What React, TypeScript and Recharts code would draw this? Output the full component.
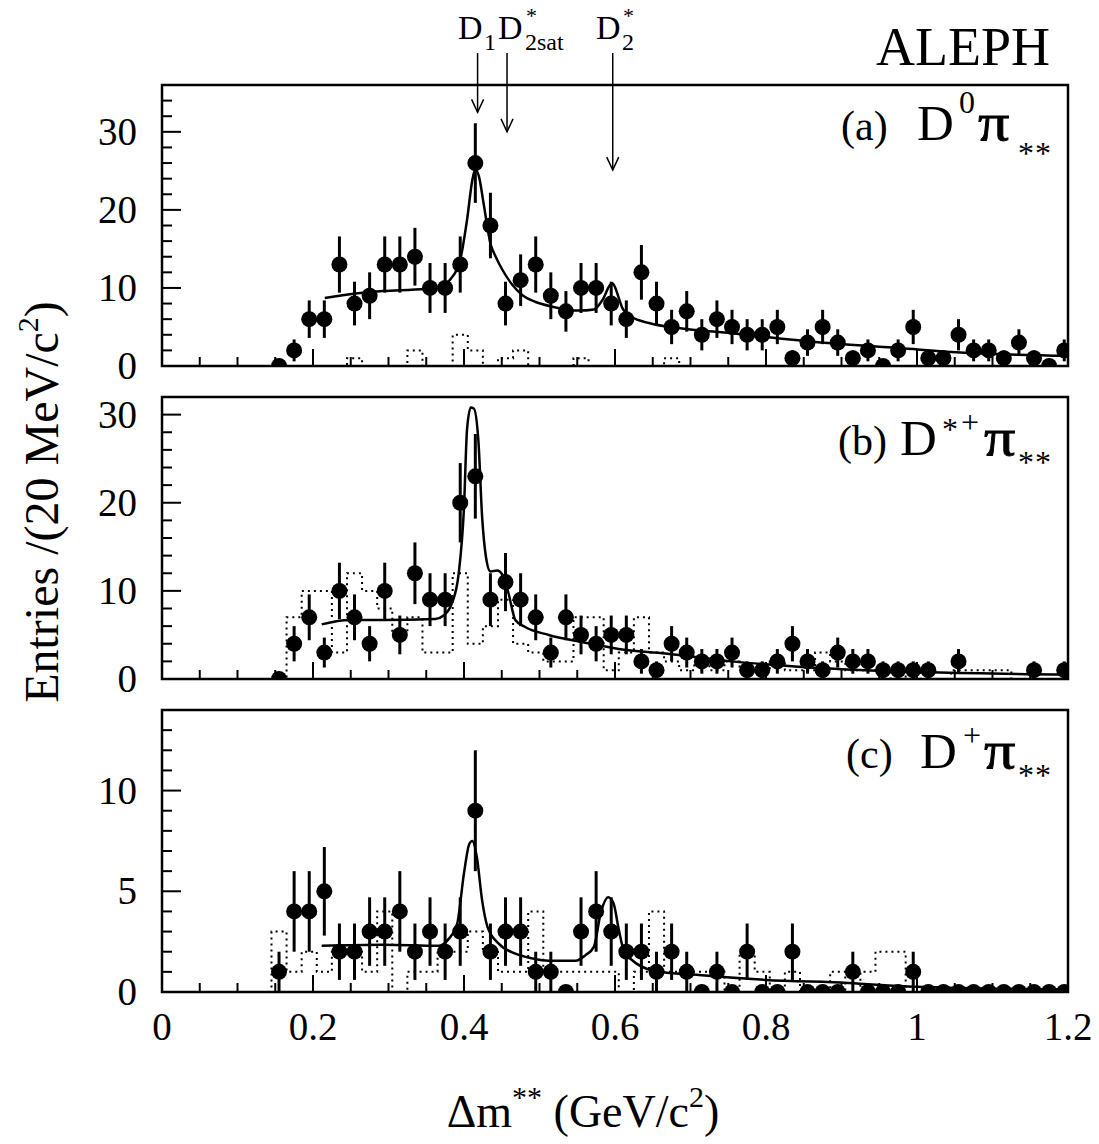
import React from 'react';
import { ComposedChart, Scatter, Line, XAxis, YAxis, ErrorBar, ReferenceLine, ReferenceArea } from 'recharts';

// ---------- data ----------
const BIN_CENTERS = [
  0.155, 0.175, 0.195, 0.215, 0.235, 0.255, 0.275, 0.295, 0.315, 0.335,
  0.355, 0.375, 0.395, 0.415, 0.435, 0.455, 0.475, 0.495, 0.515, 0.535,
  0.555, 0.575, 0.595, 0.615, 0.635, 0.655, 0.675, 0.695, 0.715, 0.735,
  0.755, 0.775, 0.795, 0.815, 0.835, 0.855, 0.875, 0.895, 0.915, 0.935,
  0.955, 0.975, 0.995, 1.015, 1.035, 1.055, 1.075, 1.095, 1.115, 1.135,
  1.155, 1.175, 1.195,
];
const HALF_BIN = 0.01;

// (a) D0 pi
const A_COUNTS = [
  0, 2, 6, 6, 13, 8, 9, 13, 13, 14,
  10, 10, 13, 26, 18, 8, 11, 13, 9, 7,
  10, 10, 8, 6, 12, 8, 5, 7, 4, 6,
  5, 4, 4, 5, 1, 3, 5, 3, 1, 2,
  0, 2, 5, 1, 1, 4, 2, 2, 1, 3,
  1, 0, 2,
];
const A_ERRS = [
  0, 1.4, 2.4, 2.4, 3.6, 2.8, 3, 3.6, 3.6, 3.7,
  3.2, 3.2, 3.6, 5.1, 4.2, 2.8, 3.3, 3.6, 3, 2.6,
  3.2, 3.2, 2.8, 2.4, 3.5, 2.8, 2.2, 2.6, 2, 2.4,
  2.2, 2, 2, 2.2, 1, 1.7, 2.2, 1.7, 1, 1.4,
  0, 1.4, 2.2, 1, 1, 2, 1.4, 1.4, 1, 1.7,
  1, 0, 1.4,
];
const A_BG = [
  0, 0, 0, 0, 0, 1, 0, 0, 0, 2,
  0, 0, 4, 2, 0, 1, 2, 0, 0, 0,
  1, 0, 0, 0, 0, 0, 1, 0, 0, 0,
  0, 0, 0, 0, 0, 0, 0, 0, 0, 0,
  0, 0, 0, 0, 0, 0, 0, 0, 0, 0,
  0, 0, 0,
];
const A_FIT_X = [0.2156, 0.2565, 0.292, 0.349, 0.371, 0.382, 0.395, 0.404, 0.411, 0.415, 0.42, 0.426, 0.435, 0.442, 0.451, 0.464, 0.477, 0.495, 0.517, 0.552, 0.572, 0.583, 0.596, 0.611, 0.622, 0.645, 0.689, 0.755, 0.821, 0.887, 0.975, 1.063, 1.2];
const A_FIT_Y = [8.7, 9.3, 9.6, 9.9, 10.2, 11.1, 13.6, 18.7, 23.8, 25.2, 24.2, 20.8, 15.7, 14, 12.3, 10.4, 9.1, 8.2, 7.6, 7.1, 7.25, 8.4, 10.6, 7.2, 6.3, 5.5, 4.8, 4.2, 3.5, 2.9, 2.3, 1.7, 1.3];

// (b) D*+ pi
const B_COUNTS = [
  0, 4, 7, 3, 10, 7, 4, 10, 5, 12,
  9, 9, 20, 23, 9, 11, 9, 7, 3, 7,
  5, 4, 5, 5, 2, 1, 4, 3, 2, 2,
  3, 1, 1, 2, 4, 2, 1, 3, 2, 2,
  1, 1, 1, 1, null, 2, null, null, null, null,
  1, null, 1,
];
const B_ERRS = [
  0, 2, 2.6, 1.7, 3.2, 2.6, 2, 3.2, 2.2, 3.5,
  3, 3, 4.5, 4.8, 3, 3.3, 3, 2.6, 1.7, 2.6,
  2.2, 2, 2.2, 2.2, 1.4, 1, 2, 1.7, 1.4, 1.4,
  1.7, 1, 1, 1.4, 2, 1.4, 1, 1.7, 1.4, 1.4,
  1, 1, 1, 1, 0, 1.4, 0, 0, 0, 0,
  1, 0, 1,
];
const B_BG = [
  0, 7, 10, 10, 3, 12, 10, 8, 5, 7,
  3, 3, 12, 4, 6, 9, 4, 3, 2, 2,
  7, 7, 1, 3, 7, 3, 2, 1, 2, 1,
  2, 1, 1, 2, 1, 1, 3, 2, 1, 1,
  1, 0, 1, 0, 0, 1, 1, 1, 1, 0,
  0, 0, 0,
];
const B_FIT_X = [0.2115, 0.248, 0.292, 0.362, 0.373, 0.384, 0.393, 0.4, 0.404, 0.409, 0.413, 0.419, 0.424, 0.429, 0.435, 0.444, 0.451, 0.459, 0.468, 0.481, 0.512, 0.556, 0.605, 0.667, 0.755, 0.843, 0.931, 1.019, 1.2];
const B_FIT_Y = [6.2, 6.7, 6.7, 6.8, 7.2, 8.6, 12, 19.5, 28.3, 30.8, 30.7, 27.1, 18.4, 13.9, 12.2, 12.3, 11.8, 9.7, 6.7, 5.9, 5, 4.2, 3.4, 2.9, 2, 1.4, 1, 0.76, 0.5];

// (c) D+ pi
const C_COUNTS = [
  1, 4, 4, 5, 2, 2, 3, 3, 4, 2,
  3, 2, 3, 9, 2, 3, 3, 1, 1, 0,
  3, 4, 3, 2, 2, 1, 2, 1, 0, 1,
  0, 2, 0, 0, 2, 0, 0, 0, 1, 0,
  0, 0, 1, 0, 0, 0, 0, 0, 0, 0,
  0, 0, 0,
];
const C_ERRS = [
  1, 2, 2, 2.2, 1.4, 1.4, 1.7, 1.7, 2, 1.4,
  1.7, 1.4, 1.7, 3, 1.4, 1.7, 1.7, 1, 1, 0,
  1.7, 2, 1.7, 1.4, 1.4, 1, 1.4, 1, 0, 1,
  0, 1.4, 0, 0, 1.4, 0, 0, 0, 1, 0,
  0, 0, 1, 0, 0, 0, 0, 0, 0, 0,
  0, 0, 0,
];
const C_BG = [
  3, 1, 2, 1, 2, 2, 1, 4, 0, 1,
  1, 2, 2, 3, 2, 1, 1, 4, 1, 1,
  1, 1, 1, 0, 1, 4, 1, 1, 1, 1,
  0, 2, 1, 0, 1, 0, 0, 1, 0, 1,
  2, 2, 0, 0, 0, 0, 0, 0, 0, 0,
  0, 0, 0,
];
const C_FIT_X = [0.2115, 0.292, 0.367, 0.38, 0.391, 0.4, 0.407, 0.411, 0.417, 0.424, 0.431, 0.446, 0.468, 0.49, 0.512, 0.548, 0.561, 0.572, 0.581, 0.591, 0.598, 0.605, 0.612, 0.622, 0.651, 0.711, 0.799, 0.909, 0.997, 1.2];
const C_FIT_Y = [2.3, 2.35, 2.3, 2.65, 3.4, 5.9, 7.35, 7.5, 6.7, 4.55, 3.25, 2.4, 1.9, 1.67, 1.55, 1.55, 1.83, 2.24, 3.9, 4.7, 4.4, 3.1, 2.0, 1.6, 1.06, 0.84, 0.6, 0.45, 0.26, 0.13];

// axes
const X_TICKS = [0, 0.05, 0.1, 0.15, 0.2, 0.25, 0.3, 0.35, 0.4, 0.45, 0.5, 0.55, 0.6, 0.65, 0.7, 0.75, 0.8, 0.85, 0.9, 0.95, 1, 1.05, 1.1, 1.15, 1.2];
const X_LABELS = [0, 0.2, 0.4, 0.6, 0.8, 1, 1.2];
const AB_Y_TICKS_A = [0, 2, 4, 6, 8, 10, 12, 14, 16, 18, 20, 22, 24, 26, 28, 30, 32, 34];
const AB_Y_TICKS_B = [0, 2, 4, 6, 8, 10, 12, 14, 16, 18, 20, 22, 24, 26, 28, 30];
const AB_Y_LABELS = [0, 10, 20, 30];
const C_Y_TICKS = [0, 1, 2, 3, 4, 5, 6, 7, 8, 9, 10, 11, 12, 13];
const C_Y_LABELS = [0, 5, 10];

// resonance markers (x in GeV/c^2, arrow from yTop to yTip in panel (a) units)
const MARKER_X = [0.418, 0.457, 0.597];
const MARKER_TOP = 40.1;
const MARKER_TIP = [32.5, 30.0, 25.1];

// ---------- layout ----------
const W = 1099;
const H = 1144;
const PLOT_LEFT = 162;
const PLOT_RIGHT = 1068;
const X_AXIS_H = 30;
const FONT = '"Liberation Serif", "Times New Roman", Times, serif';

function makeXTick(showLabels: boolean) {
  return (props: any) => {
    const { x, y, payload } = props;
    const v = payload.value;
    const major = X_LABELS.indexOf(v) >= 0;
    return (
      <g>
        <line x1={x} x2={x} y1={y} y2={y - (major ? 17 : 9)} stroke="#000" strokeWidth={2} />
        {showLabels && major ? (
          <text x={x} y={y + 48} textAnchor="middle" fontSize={39} fontFamily={FONT} fill="#000">
            {String(v)}
          </text>
        ) : null}
      </g>
    );
  };
}

function makeYTick(labels: number[]) {
  return (props: any) => {
    const { x, y, payload } = props;
    const v = payload.value;
    const major = labels.indexOf(v) >= 0;
    return (
      <g>
        <line x1={x} x2={x + (major ? 19 : 10)} y1={y} y2={y} stroke="#000" strokeWidth={2} />
        {major ? (
          <text x={x - 25} y={y + 13} textAnchor="end" fontSize={39} fontFamily={FONT} fill="#000">
            {String(v)}
          </text>
        ) : null}
      </g>
    );
  };
}

const dotShape = (p: any) => <circle cx={p.cx} cy={p.cy} r={8} fill="#000" />;

const arrowShape = (p: any) => {
  const { x1, y1, x2, y2 } = p;
  return (
    <g>
      <line x1={x1} y1={y1} x2={x2} y2={y2} stroke="#000" strokeWidth={1.5} />
      <polyline
        points={`${x2 - 6},${y2 - 13} ${x2},${y2} ${x2 + 6},${y2 - 13}`}
        fill="none"
        stroke="#000"
        strokeWidth={1.5}
      />
    </g>
  );
};

type PanelCfg = {
  top: number;
  bottom: number;
  yMax: number;
  yTicks: number[];
  yLabels: number[];
  counts: (number | null)[];
  errs: number[];
  bg: number[];
  fitX: number[];
  fitY: number[];
  xLabels: boolean;
  arrows: boolean;
};

const PANELS: PanelCfg[] = [
  { top: 85, bottom: 366, yMax: 36, yTicks: AB_Y_TICKS_A, yLabels: AB_Y_LABELS, counts: A_COUNTS, errs: A_ERRS, bg: A_BG, fitX: A_FIT_X, fitY: A_FIT_Y, xLabels: false, arrows: true },
  { top: 397, bottom: 679, yMax: 32, yTicks: AB_Y_TICKS_B, yLabels: AB_Y_LABELS, counts: B_COUNTS, errs: B_ERRS, bg: B_BG, fitX: B_FIT_X, fitY: B_FIT_Y, xLabels: false, arrows: false },
  { top: 710, bottom: 992, yMax: 14, yTicks: C_Y_TICKS, yLabels: C_Y_LABELS, counts: C_COUNTS, errs: C_ERRS, bg: C_BG, fitX: C_FIT_X, fitY: C_FIT_Y, xLabels: true, arrows: false },
];

function Panel({ cfg }: { cfg: PanelCfg }) {
  const pts = BIN_CENTERS.map((x, i) => ({ x, y: cfg.counts[i], err: cfg.errs[i] })).filter((p) => p.y !== null);
  const last = BIN_CENTERS.length - 1;
  const hist = [
    { x: 0, y: 0 },
    ...BIN_CENTERS.map((c, i) => ({ x: c - HALF_BIN, y: cfg.bg[i] })),
    { x: BIN_CENTERS[last] + HALF_BIN, y: cfg.bg[last] },
  ];
  const fit = cfg.fitX.map((x, i) => ({ x, y: cfg.fitY[i] }));
  return (
    <div style={{ position: 'absolute', left: 0, top: 0 }}>
      <ComposedChart
        width={W}
        height={H}
        margin={{ top: cfg.top, right: W - PLOT_RIGHT, bottom: H - cfg.bottom - X_AXIS_H, left: 0 }}
      >
        <XAxis
          type="number"
          dataKey="x"
          domain={[0, 1.2]}
          ticks={X_TICKS}
          interval={0}
          allowDataOverflow
          tickLine={false}
          axisLine={false}
          tickSize={0}
          tickMargin={0}
          height={X_AXIS_H}
          tick={makeXTick(cfg.xLabels)}
        />
        <YAxis
          type="number"
          dataKey="y"
          domain={[0, cfg.yMax]}
          ticks={cfg.yTicks}
          interval={0}
          allowDataOverflow
          tickLine={false}
          axisLine={false}
          tickSize={0}
          tickMargin={0}
          width={PLOT_LEFT}
          tick={makeYTick(cfg.yLabels)}
        />
        <ReferenceArea
          x1={0}
          x2={1.2}
          y1={0}
          y2={cfg.yMax}
          fill="none"
          fillOpacity={0}
          stroke="#000"
          strokeWidth={2.5}
          ifOverflow="visible"
        />
        <Line
          data={hist}
          dataKey="y"
          type="stepAfter"
          stroke="#000"
          strokeWidth={2}
          strokeDasharray="2 4"
          dot={false}
          isAnimationActive={false}
        />
        <Line
          data={fit}
          dataKey="y"
          type="monotone"
          stroke="#000"
          strokeWidth={2.5}
          dot={false}
          isAnimationActive={false}
        />
        <Scatter data={pts} shape={dotShape} isAnimationActive={false}>
          <ErrorBar dataKey="err" direction="y" width={0} stroke="#000" strokeWidth={3} isAnimationActive={false} />
        </Scatter>
        {cfg.arrows
          ? MARKER_X.map((mx, i) => (
              <ReferenceLine
                key={i}
                segment={[
                  { x: mx, y: MARKER_TOP },
                  { x: mx, y: MARKER_TIP[i] },
                ]}
                ifOverflow="visible"
                shape={arrowShape}
              />
            ))
          : null}
      </ComposedChart>
    </div>
  );
}

function Pi({ x, y }: { x: number; y: number }) {
  return (
    <text transform={`translate(${x},${y}) scale(1.2,1)`} fontSize={52} fontFamily={FONT} fill="#000" stroke="#000" strokeWidth={0.8}>
      π
    </text>
  );
}

function Overlay() {
  const t = { fontFamily: FONT, fill: '#000' } as const;
  return (
    <svg width={W} height={H} style={{ position: 'absolute', left: 0, top: 0, pointerEvents: 'none' }}>
      <text x={1050} y={65} textAnchor="end" fontSize={54} {...t}>ALEPH</text>

      {/* resonance labels */}
      <text x={458} y={39} fontSize={34} {...t}>D</text>
      <text x={484} y={50} fontSize={24} {...t}>1</text>
      <text x={498} y={39} fontSize={34} {...t}>D</text>
      <text x={525} y={50} fontSize={24} {...t}>2</text>
      <text x={526} y={23} fontSize={22} {...t}>*</text>
      <text x={537} y={50} fontSize={24} {...t}>sat</text>
      <text x={596} y={39} fontSize={34} {...t}>D</text>
      <text x={622} y={50} fontSize={24} {...t}>2</text>
      <text x={623} y={23} fontSize={22} {...t}>*</text>

      {/* (a) */}
      <text x={841} y={140} fontSize={42} {...t}>(a)</text>
      <text x={917} y={140} fontSize={51} {...t}>D</text>
      <text x={959} y={113} fontSize={32} {...t}>0</text>
      <Pi x={978} y={140} />
      <text x={1018} y={164} fontSize={32} letterSpacing={1} {...t}>**</text>

      {/* (b) */}
      <text x={838} y={455} fontSize={42} {...t}>(b)</text>
      <text x={900} y={455} fontSize={51} {...t}>D</text>
      <text x={942} y={440} fontSize={32} {...t}>*</text>
      <text x={961} y={433} fontSize={32} {...t}>+</text>
      <Pi x={984} y={455} />
      <text x={1018} y={473} fontSize={32} letterSpacing={1} {...t}>**</text>

      {/* (c) */}
      <text x={846} y={768} fontSize={42} {...t}>(c)</text>
      <text x={920} y={768} fontSize={51} {...t}>D</text>
      <text x={963} y={746} fontSize={32} {...t}>+</text>
      <Pi x={984} y={768} />
      <text x={1018} y={786} fontSize={32} letterSpacing={1} {...t}>**</text>

      {/* axis titles */}
      <text transform="translate(58,502) rotate(-90)" textAnchor="middle" fontSize={48} {...t}>
        Entries /(20 MeV/c<tspan dy={-20} fontSize={30}>2</tspan>
        <tspan dy={20}>)</tspan>
      </text>
      <text x={583} y={1127} textAnchor="middle" fontSize={46} {...t}>
        Δm<tspan dy={-20} fontSize={30}>**</tspan>
        <tspan dy={20}> (GeV/c</tspan>
        <tspan dy={-20} fontSize={30}>2</tspan>
        <tspan dy={20}>)</tspan>
      </text>
    </svg>
  );
}

export default function App() {
  return (
    <div style={{ position: 'absolute', left: 0, top: 0, width: W, height: H, background: '#fff' }}>
      {PANELS.map((cfg, i) => (
        <Panel key={i} cfg={cfg} />
      ))}
      <Overlay />
    </div>
  );
}
